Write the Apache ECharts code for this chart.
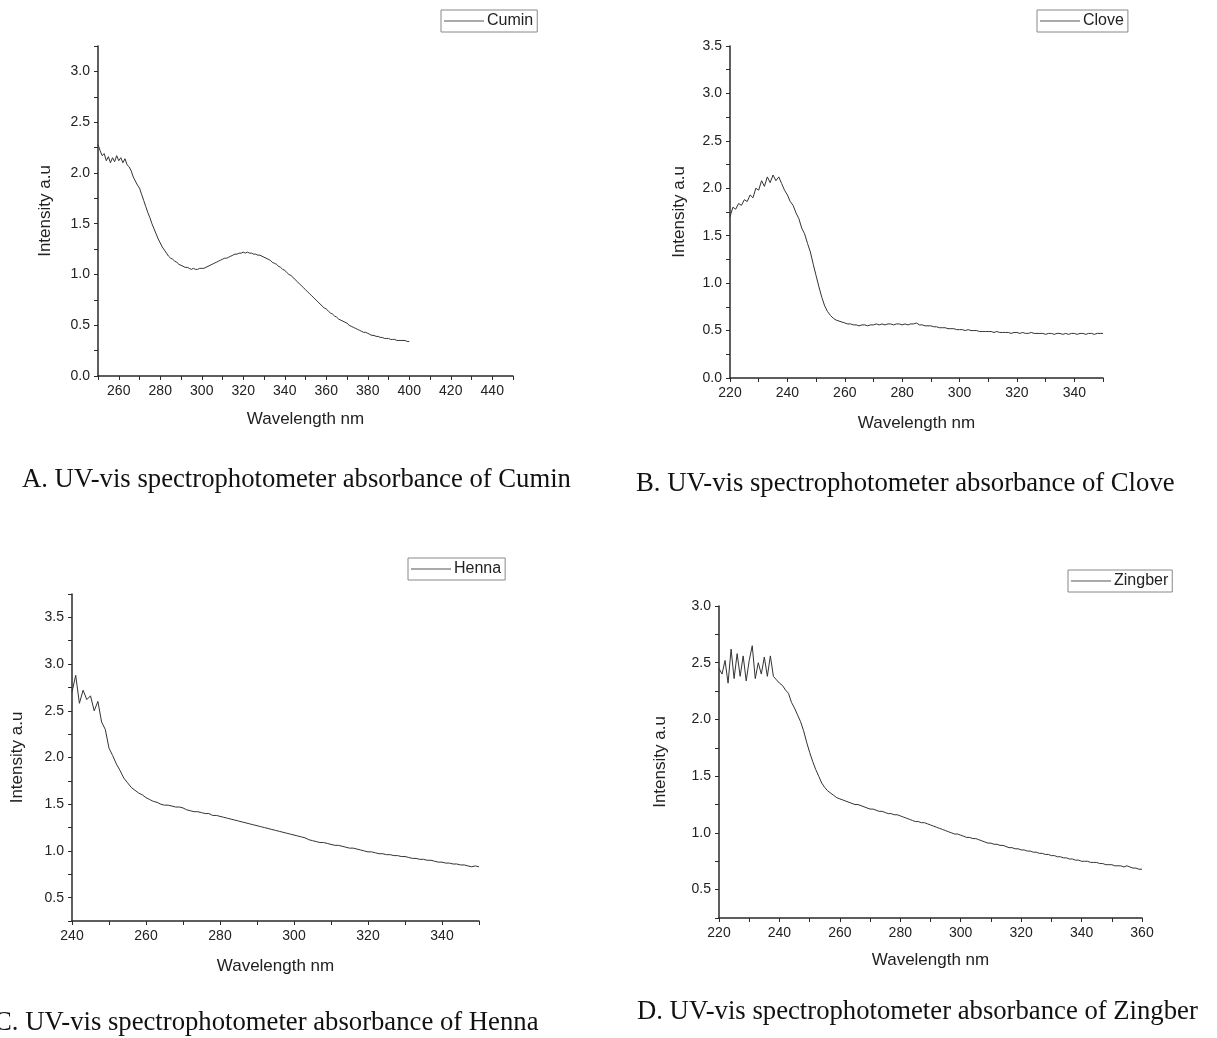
<!DOCTYPE html>
<html>
<head>
<meta charset="UTF-8">
<title>UV-vis spectra</title>
<script src="https://cdn.jsdelivr.net/npm/echarts@6/dist/echarts.min.js"></script>
<style>
  html, body { margin: 0; padding: 0; background: #fff; }
</style>
</head>
<body>
<div id="main" style="width: 1217px;height:1038px;"></div>
<script type="text/javascript">
// 每条谱线: 起始波长 + 每 1 nm 读取的吸光度
var cuminStart = 250;
var cuminValues = [
  2.28, 2.22, 2.17, 2.19, 2.12, 2.16, 2.10, 2.15, 2.11, 2.17,
  2.12, 2.15, 2.10, 2.14, 2.08, 2.06, 2.02, 1.96, 1.92, 1.88,
  1.85, 1.79, 1.73, 1.67, 1.61, 1.56, 1.50, 1.45, 1.40, 1.35,
  1.31, 1.27, 1.24, 1.21, 1.18, 1.16, 1.15, 1.13, 1.12, 1.10,
  1.09, 1.08, 1.07, 1.07, 1.06, 1.05, 1.06, 1.05, 1.05, 1.06,
  1.06, 1.06, 1.07, 1.08, 1.09, 1.10, 1.11, 1.12, 1.13, 1.14,
  1.15, 1.16, 1.16, 1.17, 1.18, 1.19, 1.20, 1.20, 1.21, 1.21,
  1.22, 1.21, 1.22, 1.21, 1.21, 1.20, 1.20, 1.19, 1.19, 1.18,
  1.17, 1.16, 1.15, 1.14, 1.12, 1.11, 1.10, 1.08, 1.07, 1.05,
  1.04, 1.02, 1.00, 0.99, 0.97, 0.95, 0.93, 0.91, 0.89, 0.87,
  0.85, 0.83, 0.81, 0.79, 0.77, 0.75, 0.73, 0.71, 0.69, 0.67,
  0.66, 0.64, 0.62, 0.61, 0.59, 0.58, 0.56, 0.55, 0.54, 0.53,
  0.52, 0.50, 0.49, 0.48, 0.47, 0.46, 0.45, 0.44, 0.43, 0.43,
  0.42, 0.41, 0.40, 0.40, 0.39, 0.39, 0.38, 0.38, 0.37, 0.37,
  0.37, 0.36, 0.36, 0.36, 0.35, 0.35, 0.35, 0.35, 0.35, 0.34,
  0.34
];

var cloveStart = 220;
var cloveValues = [
  1.70, 1.80, 1.78, 1.84, 1.82, 1.88, 1.86, 1.93, 1.90, 2.00,
  1.98, 2.08, 2.02, 2.12, 2.06, 2.14, 2.08, 2.12, 2.05, 1.98,
  1.93, 1.86, 1.82, 1.74, 1.68, 1.58, 1.52, 1.42, 1.33, 1.20,
  1.08, 0.96, 0.85, 0.76, 0.70, 0.66, 0.63, 0.61, 0.60, 0.59,
  0.58, 0.57, 0.57, 0.56, 0.56, 0.55, 0.56, 0.56, 0.55, 0.56,
  0.56, 0.57, 0.56, 0.57, 0.56, 0.57, 0.57, 0.56, 0.57, 0.57,
  0.56, 0.57, 0.56, 0.57, 0.57, 0.58, 0.56, 0.56, 0.55, 0.55,
  0.55, 0.54, 0.54, 0.53, 0.53, 0.53, 0.52, 0.52, 0.52, 0.51,
  0.51, 0.51, 0.50, 0.51, 0.50, 0.50, 0.50, 0.49, 0.49, 0.49,
  0.49, 0.49, 0.48, 0.49, 0.48, 0.48, 0.48, 0.48, 0.47, 0.48,
  0.48, 0.47, 0.48, 0.47, 0.47, 0.48, 0.47, 0.47, 0.47, 0.47,
  0.46, 0.47, 0.47, 0.46, 0.47, 0.47, 0.46, 0.47, 0.46, 0.47,
  0.47, 0.46, 0.47, 0.47, 0.46, 0.47, 0.47, 0.46, 0.47, 0.47,
  0.47
];

var hennaStart = 240;
var hennaValues = [
  2.70, 2.88, 2.58, 2.72, 2.62, 2.66, 2.50, 2.60, 2.38, 2.30,
  2.10, 2.02, 1.93, 1.86, 1.78, 1.73, 1.68, 1.65, 1.62, 1.60,
  1.57, 1.55, 1.53, 1.52, 1.50, 1.49, 1.49, 1.48, 1.47, 1.47,
  1.46, 1.44, 1.43, 1.42, 1.42, 1.41, 1.40, 1.40, 1.38, 1.38,
  1.37, 1.36, 1.35, 1.34, 1.33, 1.32, 1.31, 1.30, 1.29, 1.28,
  1.27, 1.26, 1.25, 1.24, 1.23, 1.22, 1.21, 1.20, 1.19, 1.18,
  1.17, 1.16, 1.15, 1.14, 1.12, 1.11, 1.10, 1.09, 1.09, 1.08,
  1.07, 1.06, 1.06, 1.05, 1.04, 1.03, 1.03, 1.02, 1.01, 1.00,
  0.99, 0.99, 0.98, 0.97, 0.97, 0.96, 0.96, 0.95, 0.95, 0.94,
  0.94, 0.93, 0.92, 0.92, 0.91, 0.91, 0.90, 0.90, 0.89, 0.88,
  0.88, 0.87, 0.87, 0.86, 0.86, 0.85, 0.85, 0.84, 0.83, 0.84,
  0.83
];

var zingberStart = 220;
var zingberValues = [
  2.45, 2.40, 2.52, 2.32, 2.62, 2.36, 2.58, 2.38, 2.56, 2.34,
  2.52, 2.65, 2.36, 2.50, 2.40, 2.55, 2.38, 2.56, 2.38, 2.35,
  2.32, 2.30, 2.26, 2.23, 2.15, 2.10, 2.04, 1.98, 1.90, 1.80,
  1.71, 1.63, 1.56, 1.50, 1.44, 1.40, 1.37, 1.35, 1.33, 1.31,
  1.30, 1.29, 1.28, 1.27, 1.26, 1.25, 1.25, 1.24, 1.23, 1.22,
  1.21, 1.21, 1.20, 1.19, 1.19, 1.18, 1.17, 1.17, 1.16, 1.16,
  1.15, 1.14, 1.13, 1.12, 1.11, 1.10, 1.10, 1.09, 1.09, 1.08,
  1.07, 1.06, 1.05, 1.04, 1.03, 1.02, 1.01, 1.00, 0.99, 0.99,
  0.98, 0.97, 0.96, 0.96, 0.95, 0.95, 0.94, 0.93, 0.92, 0.91,
  0.91, 0.90, 0.90, 0.89, 0.89, 0.88, 0.87, 0.87, 0.86, 0.86,
  0.85, 0.85, 0.84, 0.84, 0.83, 0.83, 0.82, 0.82, 0.81, 0.81,
  0.80, 0.80, 0.79, 0.79, 0.78, 0.78, 0.77, 0.77, 0.76, 0.76,
  0.75, 0.75, 0.75, 0.74, 0.74, 0.74, 0.73, 0.73, 0.72, 0.72,
  0.72, 0.71, 0.71, 0.71, 0.70, 0.71, 0.70, 0.69, 0.69, 0.68,
  0.68
];

var names = ['Cumin', 'Clove', 'Henna', 'Zingber'];
var captions = [
  'A. UV-vis spectrophotometer absorbance of Cumin',
  'B. UV-vis spectrophotometer absorbance of Clove',
  'C. UV-vis spectrophotometer absorbance of Henna',
  'D. UV-vis spectrophotometer absorbance of Zingber'
];
var xRanges = [[250, 450], [220, 350], [240, 350], [220, 360]];
var yRanges = [[0, 3.25], [0, 3.5], [0.25, 3.75], [0.25, 3.0]];

function pairs(start, values) {
  return values.map(function (v, i) { return [start + i, v]; });
}
var seriesData = [
  pairs(cuminStart, cuminValues),
  pairs(cloveStart, cloveValues),
  pairs(hennaStart, hennaValues),
  pairs(zingberStart, zingberValues)
];

// 版面位置
var grids = [
  { left: 98, top: 46, width: 415, height: 330 },
  { left: 730, top: 46, width: 373, height: 332 },
  { left: 72, top: 594, width: 407, height: 327 },
  { left: 719, top: 606, width: 423, height: 312 }
];
var yNameGaps = [44, 42, 46, 50];
var xNameGaps = [35, 37, 37, 34];
var legendPos = [[441, 10], [1037, 10], [408, 558], [1068, 570]];
var captionPos = [[22, 480], [636, 484], [-6, 1023], [637, 1012]];

var axisColor = '#2a2a2a';
var sansFont = '"Liberation Sans", Arial, sans-serif';

var option = {
  animation: false,
  backgroundColor: '#fff',
  grid: grids,
  legend: names.map(function (n, i) {
    return {
      data: [n],
      left: legendPos[i][0],
      top: legendPos[i][1],
      icon: 'rect',
      padding: [3, 4, 3, 3],
      itemWidth: 40,
      itemHeight: 1,
      itemStyle: { color: '#555' },
      borderColor: '#888',
      borderWidth: 1,
      borderRadius: 0,
      textStyle: { fontFamily: sansFont, fontSize: 16, color: '#222', padding: [0, 0, 0, -2] }
    };
  }),
  xAxis: xRanges.map(function (r, i) {
    return {
      type: 'value',
      gridIndex: i,
      min: r[0],
      max: r[1],
      interval: 10,
      name: 'Wavelength nm',
      nameLocation: 'middle',
      nameGap: xNameGaps[i],
      nameTextStyle: { fontFamily: sansFont, fontSize: 17, color: '#222' },
      splitLine: { show: false },
      axisLine: { lineStyle: { color: axisColor, width: 1.5 } },
      axisTick: { length: 4, lineStyle: { color: axisColor } },
      axisLabel: {
        fontFamily: sansFont, fontSize: 14, color: '#222', margin: 8,
        formatter: function (v) { return v % 20 === 0 ? String(v) : ''; }
      }
    };
  }),
  yAxis: yRanges.map(function (r, i) {
    return {
      type: 'value',
      gridIndex: i,
      min: r[0],
      max: r[1],
      interval: 0.25,
      name: 'Intensity a.u',
      nameLocation: 'middle',
      nameGap: yNameGaps[i],
      nameTextStyle: { fontFamily: sansFont, fontSize: 17, color: '#222' },
      splitLine: { show: false },
      axisLine: { show: true, lineStyle: { color: axisColor, width: 1.5 } },
      axisTick: { show: true, length: 4, lineStyle: { color: axisColor } },
      axisLabel: {
        fontFamily: sansFont, fontSize: 14, color: '#222', margin: 8,
        formatter: function (v) {
          var d = v * 2;
          return Math.abs(d - Math.round(d)) < 1e-6 ? v.toFixed(1) : '';
        }
      }
    };
  }),
  series: names.map(function (n, i) {
    return {
      name: n,
      type: 'line',
      xAxisIndex: i,
      yAxisIndex: i,
      data: seriesData[i],
      symbol: 'none',
      lineStyle: { color: '#333', width: 1 },
      itemStyle: { color: '#333' }
    };
  }),
  graphic: captions.map(function (c, i) {
    return {
      type: 'text',
      x: captionPos[i][0],
      y: captionPos[i][1],
      style: {
        text: c,
        font: '26.7px "Liberation Serif", "Times New Roman", serif',
        fill: '#111',
        verticalAlign: 'middle'
      }
    };
  })
};

var myChart = echarts.init(document.getElementById('main'));
myChart.setOption(option);
</script>
</body>
</html>
